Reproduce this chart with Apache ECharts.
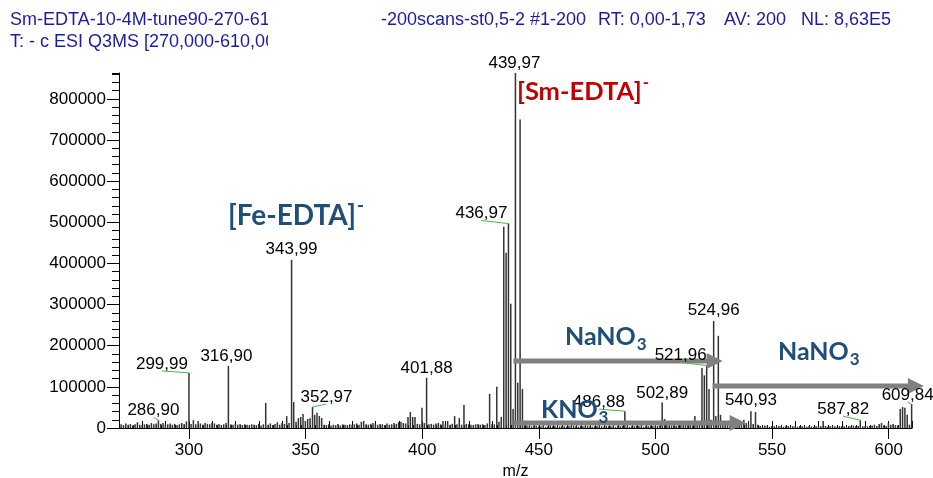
<!DOCTYPE html>
<html>
<head>
<meta charset="utf-8">
<script src="https://cdn.jsdelivr.net/npm/echarts@6/dist/echarts.min.js"></script>
<style>
  html, body { margin: 0; background: #fff; }
  #main { width: 933px; height: 478px; }
</style>
</head>
<body>
<div id="main"></div>
<script>
// tick labels
const xTicks = [300, 350, 400, 450, 500, 550, 600];
const yTicks = [0, 100000, 200000, 300000, 400000, 500000, 600000, 700000, 800000];

// main peaks (m/z, intensity)
const peakMz = [286.90, 299.99, 316.90, 332.90, 343.99, 352.97, 401.88, 431.97, 434.97, 435.97,
  436.97, 437.97, 438.97, 439.97, 440.97, 441.97, 442.97, 486.88, 502.89, 519.96,
  520.96, 521.96, 522.96, 524.96, 526.96, 540.93, 587.82, 604.95, 605.95, 606.95,
  607.95, 609.84];
const peakInt = [19000, 134000, 151000, 61000, 409000, 51000, 122000, 100000, 489000, 426000,
  497000, 302000, 46000, 863000, 110000, 750000, 95000, 41000, 62000, 146000,
  128000, 152000, 95000, 260000, 224000, 41000, 19000, 46000, 51000, 49000,
  32000, 58000];

// small peaks, one per nominal mass from 271 (x1000)
const noiseFrom = 271;
const noiseK = [
  9, 7, 11, 8, 10, 6, 9, 14, 8, 7,
  9, 10, 8, 12, 9, 11, 0, 10, 12, 8,
  9, 11, 8, 10, 7, 9, 12, 10, 16, 0,
  10, 19, 9, 17, 11, 8, 12, 10, 9, 13,
  11, 8, 10, 7, 9, 12, 0, 9, 8, 10,
  8, 10, 7, 9, 8, 6, 9, 8, 7, 10,
  6, 9, 0, 8, 11, 7, 10, 14, 8, 12,
  10, 29, 12, 0, 63, 15, 24, 27, 34, 17,
  22, 24, 0, 32, 37, 29, 24, 8, 7, 9,
  6, 8, 7, 10, 6, 9, 8, 7, 9, 8,
  9, 11, 8, 15, 17, 9, 8, 10, 12, 9,
  8, 10, 9, 7, 11, 8, 9, 12, 10, 14,
  15, 12, 11, 27, 39, 27, 27, 10, 9, 49,
  12, 0, 9, 10, 8, 11, 12, 9, 17, 9,
  17, 8, 10, 29, 9, 24, 8, 56, 10, 9,
  8, 7, 9, 10, 8, 9, 7, 11, 83, 9,
  9, 0, 15, 27, 0, 0, 0, 0, 0, 0,
  0, 0, 0, 10, 6, 5, 4, 6, 5, 4,
  4, 5, 3, 4, 6, 4, 5, 3, 4, 5,
  4, 3, 5, 4, 6, 4, 3, 5, 4, 4,
  5, 4, 3, 4, 5, 6, 4, 3, 5, 4,
  4, 5, 3, 6, 4, 5, 0, 4, 3, 5,
  4, 6, 5, 4, 3, 5, 4, 6, 5, 4,
  5, 6, 0, 22, 7, 5, 6, 8, 5, 12,
  7, 6, 9, 15, 7, 6, 29, 9, 8, 0,
  0, 0, 0, 20, 0, 29, 0, 32, 10, 8,
  7, 6, 9, 8, 15, 18, 14, 20, 12, 8,
  0, 10, 39, 8, 5, 4, 6, 4, 3, 5,
  4, 3, 5, 4, 3, 4, 5, 3, 4, 4,
  3, 5, 4, 4, 3, 5, 4, 3, 4, 5,
  4, 17, 5, 3, 4, 5, 4, 3, 5, 4,
  4, 3, 5, 4, 6, 4, 5, 0, 4, 5,
  4, 5, 6, 8, 5, 10, 12, 6, 5, 12,
  8, 10, 7, 6, 0, 0, 0, 0, 8
];

// labelled peaks
const labelMz = [286.90, 299.99, 316.90, 343.99, 352.97, 401.88, 436.97, 439.97, 486.88,
  502.89, 521.96, 524.96, 540.93, 587.82, 609.84];
const labelDx = [-5, -27, -2, 0, 14, 0, -27, -1, -26, 0, -26, 0, 0, -17, -4];
const labelDy = [-10, -9, -10, -10, -10, -10, -10, -10, -9, -9, -10, -11, -11, -11, -9];
const leaderMz = [286.90, 299.99, 352.97, 436.97, 486.88, 521.96, 587.82, 609.84];

// arrows (m/z from, m/z to, intensity level)
const arrowFrom = [439.1, 524.5, 439.1];
const arrowTo = [528.8, 615.1, 538.7];
const arrowAt = [163000, 102000, 12000];

const sticks = [];
noiseK.forEach(function (v, i) {
  if (v > 0) sticks.push([noiseFrom + i - 0.1, v * 1000]);
});
peakMz.forEach(function (m, i) {
  sticks.push([m, peakInt[i]]);
});

const chart = echarts.init(document.getElementById('main'));
const font = 'Liberation Sans, Arial, sans-serif';

chart.setOption({
  animation: false,
  grid: { left: 119, right: 21, top: 73, bottom: 50, outerBoundsMode: 'none', containLabel: false },
  xAxis: [
    {
      type: 'value', min: 270, max: 610,
      name: 'm/z', nameLocation: 'middle', nameGap: 36,
      nameTextStyle: { color: '#000', fontSize: 16, fontFamily: font },
      axisLine: { onZero: false, lineStyle: { color: '#000', width: 1 } },
      axisTick: { customValues: xTicks, length: 11, lineStyle: { color: '#000' } },
      axisLabel: { customValues: xTicks, color: '#000', fontSize: 17, fontFamily: font, margin: 14 },
      splitLine: { show: false }
    },
    {
      type: 'value', min: 270, max: 610, interval: 10,
      axisLine: { show: false },
      axisTick: { length: 7, lineStyle: { color: '#000' } },
      axisLabel: { show: false },
      splitLine: { show: false }
    },
    {
      type: 'value', min: 270, max: 610, interval: 2,
      axisLine: { show: false },
      axisTick: { length: 3, lineStyle: { color: '#000' } },
      axisLabel: { show: false },
      splitLine: { show: false }
    }
  ],
  yAxis: [
    {
      type: 'value', min: 0, max: 863000, interval: 20000,
      axisLine: { show: true, lineStyle: { color: '#000' } },
      axisTick: { show: true, length: 7, lineStyle: { color: '#000' } },
      axisLabel: { show: false },
      splitLine: { show: false }
    },
    {
      type: 'value', min: 0, max: 863000, position: 'left',
      axisLine: { show: false },
      axisTick: { show: true, customValues: yTicks, length: 12, lineStyle: { color: '#000' } },
      axisLabel: {
        customValues: yTicks, color: '#000', fontSize: 17, fontFamily: font, margin: 13,
        formatter: function (v) { return String(v); }
      },
      splitLine: { show: false }
    }
  ],
  series: [
    {
      type: 'bar',
      xAxisIndex: 0,
      yAxisIndex: 0,
      data: sticks,
      barWidth: 1.5,
      itemStyle: { color: '#333' },
      silent: true
    }
  ]
});

function toPx(x, y) {
  return chart.convertToPixel({ xAxisIndex: 0, yAxisIndex: 0 }, [x, y]);
}
function intensityOf(m) {
  return peakInt[peakMz.indexOf(m)];
}
const measureCtx = document.createElement('canvas').getContext('2d');
function textWidth(text, css) {
  measureCtx.font = css;
  return measureCtx.measureText(text).width;
}

const g = [];

// header
const headColor = '#1c1ca0';
const headStyle = { fontSize: 18, fontFamily: font, fill: headColor, verticalAlign: 'middle' };
g.push({ type: 'text', x: 10, y: 20, style: Object.assign({ text: 'Sm-EDTA-10-4M-tune90-270-610' }, headStyle) });
g.push({ type: 'text', x: 10, y: 42, style: Object.assign({ text: 'T: - c ESI Q3MS [270,000-610,000]' }, headStyle) });
g.push({ type: 'rect', shape: { x: 268, y: 6, width: 113, height: 48 }, style: { fill: '#fff' } });
g.push({ type: 'text', x: 381, y: 20, style: Object.assign({ text: '-200scans-st0,5-2 #1-200' }, headStyle) });
g.push({ type: 'text', x: 598, y: 20, style: Object.assign({ text: 'RT: 0,00-1,73' }, headStyle) });
g.push({ type: 'text', x: 724, y: 20, style: Object.assign({ text: 'AV: 200' }, headStyle) });
g.push({ type: 'text', x: 801, y: 20, style: Object.assign({ text: 'NL: 8,63E5' }, headStyle) });

// arrows
arrowFrom.forEach(function (a, i) {
  const p0 = toPx(a, arrowAt[i]);
  const p1 = toPx(arrowTo[i], arrowAt[i]);
  g.push({ type: 'line', z: 5, shape: { x1: p0[0], y1: p0[1], x2: p1[0] - 12, y2: p1[1] },
    style: { stroke: '#808080', lineWidth: 5 } });
  g.push({ type: 'polygon', z: 5, shape: { points: [[p1[0] - 16, p1[1] - 8], [p1[0], p1[1]], [p1[0] - 16, p1[1] + 8]] },
    style: { fill: '#808080' } });
});

// peak labels
labelMz.forEach(function (m, i) {
  const top = toPx(m, intensityOf(m));
  const cx = top[0] + labelDx[i];
  const cy = top[1] + labelDy[i];
  if (leaderMz.indexOf(m) >= 0) {
    g.push({ type: 'line', z: 6, shape: { x1: cx, y1: cy + 7, x2: top[0], y2: top[1] },
      style: { stroke: '#44bb44', lineWidth: 1 } });
  }
  g.push({ type: 'text', z: 7, x: cx, y: cy, style: {
    text: m.toFixed(2).replace('.', ','), fontSize: 17, fontFamily: font, fill: '#000',
    align: 'center', verticalAlign: 'middle' } });
});

// compound annotations: main text plus a small super/subscript after it
const annFont = 'Lato, Open Sans, sans-serif';
function ann(text, small, x, y, color, size, smallDy) {
  g.push({ type: 'text', z: 8, x: x, y: y, style: { text: text, fontSize: size, fontWeight: 'bold',
    fontFamily: annFont, fill: color, verticalAlign: 'middle' } });
  const w = textWidth(text, 'bold ' + size + 'px ' + annFont);
  g.push({ type: 'text', z: 8, x: x + w + 1, y: y + smallDy, style: { text: small, fontSize: Math.round(size * 0.68),
    fontWeight: 'bold', fontFamily: annFont, fill: color, verticalAlign: 'middle' } });
}
const blue = '#1f4e79';
const red = '#c00000';
ann('[Fe-EDTA]', '-', 228, 216, blue, 28, -10);
ann('[Sm-EDTA]', '-', 517, 92, red, 25.5, -9);
ann('NaNO', '3', 565, 337, blue, 25, 8);
ann('NaNO', '3', 778, 352, blue, 25, 8);
ann('KNO', '3', 541, 410, blue, 25, 8);

chart.setOption({ graphic: g });
</script>
</body>
</html>
